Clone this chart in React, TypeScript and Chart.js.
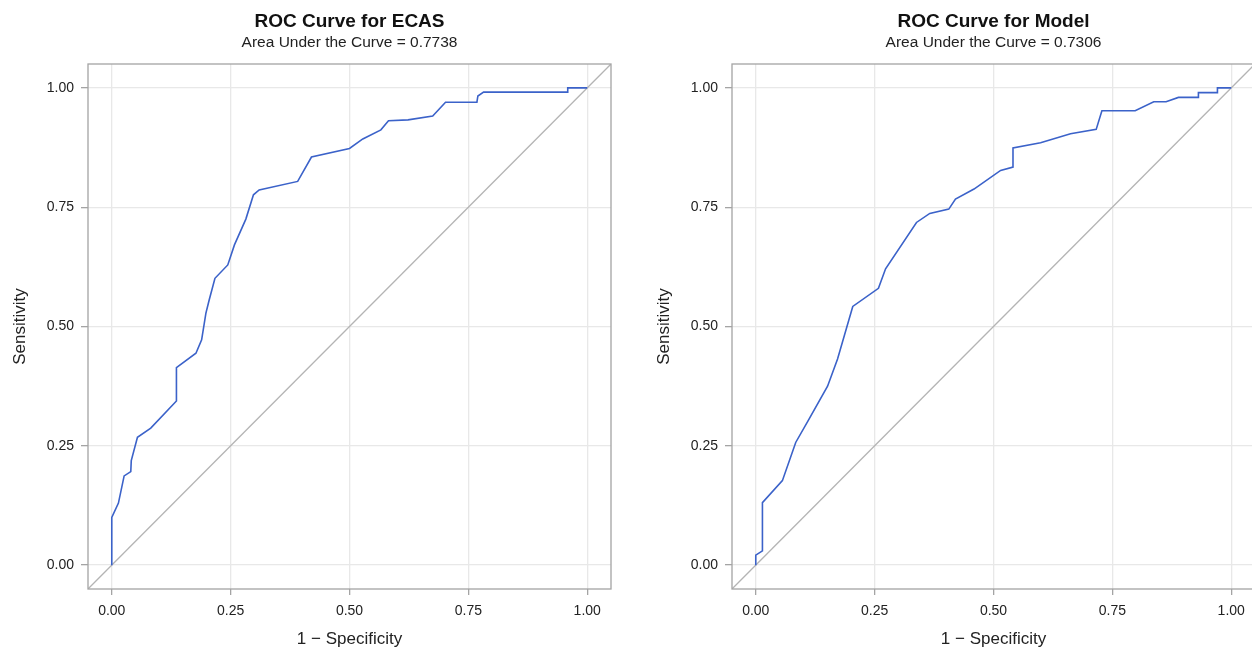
import React, { useEffect, useRef } from "react";
import { Chart, registerables } from "chart.js";

Chart.register(...registerables);

// ---- Data ----
const ecasFpr = [0, 0, 0.014, 0.026, 0.04, 0.041, 0.054, 0.082, 0.136, 0.136, 0.177, 0.189, 0.198, 0.205, 0.217, 0.244, 0.258, 0.282, 0.298, 0.31, 0.391, 0.42, 0.5, 0.528, 0.566, 0.582, 0.623, 0.675, 0.702, 0.768, 0.77, 0.782, 0.959, 0.959, 1];
const ecasTpr = [0, 0.1, 0.13, 0.187, 0.196, 0.219, 0.268, 0.287, 0.344, 0.414, 0.444, 0.472, 0.528, 0.556, 0.601, 0.629, 0.671, 0.725, 0.776, 0.786, 0.804, 0.855, 0.873, 0.893, 0.912, 0.931, 0.933, 0.941, 0.97, 0.97, 0.983, 0.991, 0.991, 1, 1];

const modelFpr = [0, 0, 0.014, 0.014, 0.056, 0.084, 0.112, 0.151, 0.172, 0.204, 0.258, 0.273, 0.338, 0.366, 0.406, 0.42, 0.459, 0.515, 0.541, 0.541, 0.599, 0.662, 0.716, 0.728, 0.798, 0.837, 0.863, 0.889, 0.931, 0.931, 0.971, 0.971, 1];
const modelTpr = [0, 0.021, 0.03, 0.131, 0.177, 0.257, 0.306, 0.375, 0.432, 0.542, 0.58, 0.621, 0.718, 0.737, 0.746, 0.767, 0.788, 0.827, 0.834, 0.874, 0.885, 0.904, 0.913, 0.952, 0.952, 0.971, 0.971, 0.98, 0.98, 0.99, 0.99, 1, 1];

const diagonal = [-0.05, 1.05];
const tickValues = [0, 0.25, 0.5, 0.75, 1];
const tickLabels = ["0.00", "0.25", "0.50", "0.75", "1.00"];

const titles = ["ROC Curve for ECAS", "ROC Curve for Model"];
const subtitles = ["Area Under the Curve = 0.7738", "Area Under the Curve = 0.7306"];
const xTitle = "1 \u2212 Specificity";
const yTitle = "Sensitivity";

const FONT = "'Liberation Sans', Arial, sans-serif";

const boxPlugin = {
  id: "box",
  afterDraw(chart: any) {
    const { ctx, chartArea } = chart;
    ctx.save();
    ctx.strokeStyle = "#a4a4a4";
    ctx.lineWidth = 1.3;
    ctx.strokeRect(chartArea.left, chartArea.top, chartArea.right - chartArea.left, chartArea.bottom - chartArea.top);
    ctx.restore();
  },
};

function RocChart({ idx, fpr, tpr }: { idx: number; fpr: number[]; tpr: number[] }) {
  const ref = useRef<HTMLCanvasElement | null>(null);
  useEffect(() => {
    if (!ref.current) return;
    const pts = fpr.map((x, i) => ({ x, y: tpr[i] }));
    const diag = diagonal.map((v) => ({ x: v, y: v }));
    const setTicks = (scale: any) => {
      scale.ticks = tickValues.map((v) => ({ value: v }));
    };
    const chart = new Chart(ref.current, {
      type: "scatter",
      data: {
        datasets: [
          {
            data: pts,
            showLine: true,
            borderColor: "#3b62c9",
            borderWidth: 1.6,
            pointRadius: 0,
            tension: 0,
          },
          {
            data: diag,
            showLine: true,
            borderColor: "#b4b4b4",
            borderWidth: 1.3,
            pointRadius: 0,
          },
        ],
      },
      options: {
        animation: false,
        responsive: false,
        layout: { padding: { left: 0, right: 29, top: 0, bottom: 0 } },
        plugins: {
          legend: { display: false },
          tooltip: { enabled: false },
          title: {
            display: true,
            fullSize: false,
            text: titles[idx],
            color: "#111",
            font: { family: FONT, size: 19, weight: "bold", lineHeight: 1.2 },
            padding: { top: 10, bottom: 0 },
          },
          subtitle: {
            display: true,
            fullSize: false,
            text: subtitles[idx],
            color: "#222",
            font: { family: FONT, size: 15.5, lineHeight: 1.2 },
            padding: { top: 1, bottom: 11.6 },
          },
        },
        scales: {
          x: {
            type: "linear",
            min: -0.05,
            max: 1.05,
            afterBuildTicks: setTicks,
            afterFit: (s: any) => {
              s.height = 59;
            },
            border: { display: false },
            grid: { color: "#e8e8e8", tickColor: "#a4a4a4", tickLength: 6, lineWidth: 1.3 },
            ticks: {
              color: "#222",
              font: { family: FONT, size: 14 },
              padding: 8,
              maxRotation: 0,
              callback: (v: any) => tickLabels[tickValues.indexOf(Number(v))] ?? "",
            },
            title: {
              display: true,
              text: xTitle,
              color: "#222",
              font: { family: FONT, size: 17, lineHeight: 1.0 },
              padding: { top: 0, bottom: 0 },
            },
          },
          y: {
            type: "linear",
            min: -0.05,
            max: 1.05,
            afterBuildTicks: setTicks,
            afterFit: (s: any) => {
              s.width = 88;
            },
            border: { display: false },
            grid: { color: "#e8e8e8", tickColor: "#a4a4a4", tickLength: 7, lineWidth: 1.3 },
            ticks: {
              color: "#222",
              font: { family: FONT, size: 14 },
              padding: 7,
              callback: (v: any) => tickLabels[tickValues.indexOf(Number(v))] ?? "",
            },
            title: {
              display: true,
              text: yTitle,
              color: "#222",
              font: { family: FONT, size: 17, lineHeight: 1.0 },
              padding: { top: 11.5, bottom: 0 },
            },
          },
        },
      },
      plugins: [boxPlugin],
    });
    return () => chart.destroy();
  }, []);
  return <canvas ref={ref} width={640} height={648} style={{ display: "block", width: 640, height: 648 }} />;
}

export default function App() {
  return (
    <div
      style={{
        position: "absolute",
        left: 0,
        top: 0,
        width: 1252,
        height: 648,
        overflow: "hidden",
        background: "#fff",
      }}
    >
      <div style={{ position: "absolute", left: 0, top: 0 }}>
        <RocChart idx={0} fpr={ecasFpr} tpr={ecasTpr} />
      </div>
      <div style={{ position: "absolute", left: 644, top: 0 }}>
        <RocChart idx={1} fpr={modelFpr} tpr={modelTpr} />
      </div>
    </div>
  );
}
